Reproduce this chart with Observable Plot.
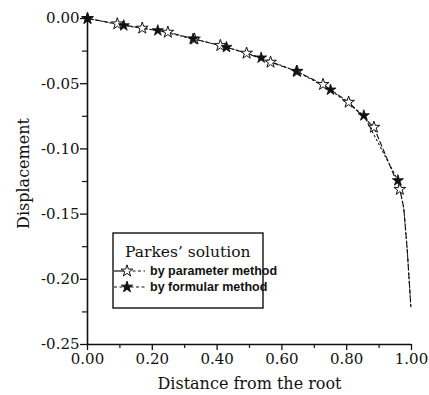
<!DOCTYPE html>
<html>
<head>
<meta charset="utf-8">
<script src="https://cdn.jsdelivr.net/npm/d3@7"></script>
<script src="https://cdn.jsdelivr.net/npm/@observablehq/plot@0.6"></script>
<style>
  html, body { margin: 0; padding: 0; background: #fff; }
  #chart { width: 429px; height: 395px; }
</style>
</head>
<body>
<div id="chart"></div>
<script>
// ---- data ----
const paramX = [0, 0.092, 0.169, 0.248, 0.330, 0.410, 0.491, 0.565, 0.647, 0.727, 0.806, 0.884, 0.964];
const paramY = [0, -0.0041, -0.0074, -0.0105, -0.0158, -0.0207, -0.0266, -0.0335, -0.0406, -0.0506, -0.0642, -0.0834, -0.1310];
const formX = [0, 0.112, 0.217, 0.326, 0.429, 0.536, 0.645, 0.750, 0.853, 0.958];
const formY = [0, -0.0054, -0.0092, -0.0156, -0.0220, -0.0301, -0.0404, -0.0547, -0.0744, -0.1242];
const tailX = [0.976, 0.987, 0.998];
const tailY = [-0.145, -0.178, -0.221];

const xTicks = [0, 0.2, 0.4, 0.6, 0.8, 1.0];
const xMinor = [0.1, 0.3, 0.5, 0.7, 0.9];
const yTicks = [0, -0.05, -0.10, -0.15, -0.20, -0.25];
const yMinor = [-0.025, -0.075, -0.125, -0.175, -0.225];

const seriesNames = ["by parameter method", "by formular method"];
const legendTitle = "Parkes\u2019 solution";
const xLabel = "Distance from the root";
const yLabel = "Displacement";

// ---- tables ----
const param = paramX.map((x, i) => ({x, y: paramY[i]}));
const form = formX.map((x, i) => ({x, y: formY[i]}));
const tail = tailX.map((x, i) => ({x, y: tailY[i]}));
const paramLine = param.concat(tail);
const formLine = form.concat(tail);

const fmt = d => d.toFixed(2);
const serif = "'DejaVu Serif', serif";
const ink = "#111";

const chart = Plot.plot({
  width: 429,
  height: 395,
  marginLeft: 87,
  marginRight: 18,
  marginTop: 18,
  marginBottom: 51,
  style: {fontFamily: serif, background: "#fff", color: ink, overflow: "visible"},
  x: {domain: [0, 1]},
  y: {domain: [-0.25, 0]},
  marks: [
    // axis lines
    Plot.ruleX([0], {y1: -0.25, y2: 0, stroke: ink, strokeWidth: 1.6}),
    Plot.ruleY([-0.25], {x1: 0, x2: 1, stroke: ink, strokeWidth: 1.6}),
    // y axis
    Plot.axisY({ticks: yTicks, tickFormat: fmt, tickSize: 7, tickPadding: 1, fontSize: 15, label: null, stroke: ink, strokeWidth: 1.3, fill: ink}),
    Plot.axisY({ticks: yMinor, tickFormat: () => "", tickSize: 5, label: null, stroke: ink, strokeWidth: 1.2}),
    // x axis
    Plot.axisX({ticks: xTicks, tickFormat: fmt, tickSize: 6, tickPadding: 3, fontSize: 15, label: null, stroke: ink, strokeWidth: 1.3, fill: ink}),
    Plot.axisX({ticks: xMinor, tickFormat: () => "", tickSize: 4, label: null, stroke: ink, strokeWidth: 1.2}),
    // axis titles
    Plot.text([xLabel], {frameAnchor: "bottom", dy: 33, lineAnchor: "top", textAnchor: "middle", fontSize: 16, fill: ink}),
    Plot.text([yLabel], {frameAnchor: "left", textAnchor: "middle", dx: -64, dy: -8, rotate: -90, fontSize: 16, fill: ink}),
    // curves
    Plot.line(paramLine, {x: "x", y: "y", stroke: ink, strokeWidth: 1.1, strokeDasharray: "5,3"}),
    Plot.line(formLine, {x: "x", y: "y", stroke: ink, strokeWidth: 1.1, strokeDasharray: "1.5,3"}),
    // markers
    Plot.dot(param, {x: "x", y: "y", symbol: "star", r: 3.7, fill: "#fff", stroke: ink, strokeWidth: 1}),
    Plot.dot(form, {x: "x", y: "y", symbol: "star", r: 3.5, fill: ink, stroke: ink, strokeWidth: 0.8})
  ]
});

document.getElementById("chart").appendChild(chart);

// ---- legend (drawn inside the SVG) ----
const svg = d3.select(chart);
const lg = svg.append("g").attr("transform", "translate(113,233)").attr("text-anchor", "start");
lg.append("rect").attr("width", 150).attr("height", 75)
  .attr("fill", "#fff").attr("stroke", ink).attr("stroke-width", 1.4);
lg.append("text").attr("x", 12).attr("y", 24).attr("text-anchor", "start")
  .attr("font-family", serif).attr("font-size", 15.5).attr("fill", ink).text(legendTitle);

const rows = [
  {y: 38, fill: "#fff", r: 3.7},
  {y: 54, fill: ink, r: 3.5}
];
rows.forEach((row, i) => {
  const gRow = lg.append("g").attr("transform", `translate(0,${row.y})`);
  if (i === 0) {
    gRow.append("line").attr("x1", 1).attr("x2", 14).attr("stroke", ink).attr("stroke-width", 1.2);
    gRow.append("line").attr("x1", 14).attr("x2", 32).attr("stroke", ink).attr("stroke-width", 1.1).attr("stroke-dasharray", "3,2.5");
  } else {
    gRow.append("line").attr("x1", 1).attr("x2", 32).attr("stroke", ink).attr("stroke-width", 1.1).attr("stroke-dasharray", "3,2.5");
  }
  gRow.append("path").attr("transform", "translate(14,0)")
    .attr("d", d3.symbol(d3.symbolStar, Math.PI * row.r * row.r)())
    .attr("fill", row.fill).attr("stroke", ink).attr("stroke-width", 1);
  gRow.append("text").attr("x", 37).attr("dy", "0.35em").attr("text-anchor", "start")
    .attr("font-family", "'Liberation Sans', Arial, sans-serif").attr("font-size", 12.5).attr("font-weight", "bold")
    .attr("fill", ink).text(seriesNames[i]);
});
</script>
</body>
</html>
